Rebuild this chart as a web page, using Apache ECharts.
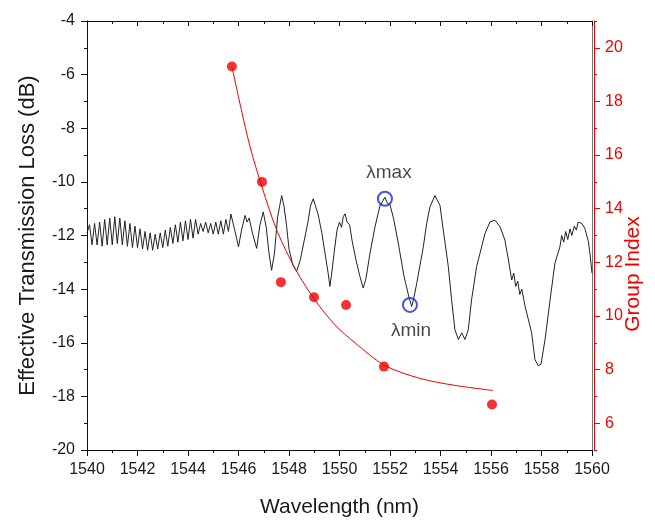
<!DOCTYPE html>
<html>
<head>
<meta charset="utf-8">
<script src="https://cdn.jsdelivr.net/npm/echarts@6/dist/echarts.min.js"></script>
<style>
html,body{margin:0;padding:0;background:#fff;}
#chart{width:655px;height:523px;}
</style>
</head>
<body>
<div id="chart"></div>
<script>
// Transmission spectrum (wavelength nm, effective transmission loss dB)
const specWavelength = [
1540.0,1540.1,1540.2,1540.3,1540.4,1540.5,1540.6,1540.7,1540.8,1540.9,
1541.0,1541.1,1541.2,1541.3,1541.4,1541.5,1541.6,1541.7,1541.8,1541.9,
1542.0,1542.1,1542.2,1542.3,1542.4,1542.5,1542.6,1542.7,1542.8,1542.9,
1543.0,1543.1,1543.2,1543.3,1543.4,1543.5,1543.6,1543.7,1543.8,1543.9,
1544.0,1544.1,1544.2,1544.3,1544.4,1544.5,1544.6,1544.7,1544.8,1544.9,
1545.0,1545.1,1545.2,1545.3,1545.4,1545.5,1545.6,1545.7,1545.85,1546.0,
1546.12,1546.26,1546.34,1546.42,1546.55,1546.72,1546.85,1546.98,1547.1,1547.2,
1547.31,1547.42,1547.55,1547.71,1547.8,1547.9,1548.0,1548.15,1548.3,1548.45,
1548.6,1548.75,1548.85,1548.96,1549.05,1549.15,1549.3,1549.45,1549.55,1549.62,
1549.68,1549.78,1549.9,1550.0,1550.08,1550.15,1550.22,1550.3,1550.4,1550.5,
1550.65,1550.8,1550.94,1551.05,1551.2,1551.4,1551.6,1551.8,1551.9,1552.0,
1552.15,1552.35,1552.55,1552.75,1552.86,1552.95,1553.06,1553.32,1553.45,1553.58,
1553.78,1553.98,1554.11,1554.31,1554.44,1554.57,1554.71,1554.84,1554.97,1555.1,
1555.23,1555.43,1555.63,1555.76,1555.96,1556.16,1556.36,1556.55,1556.69,1556.82,
1556.9,1556.98,1557.06,1557.14,1557.22,1557.35,1557.61,1557.74,1557.87,1557.98,
1558.14,1558.34,1558.53,1558.73,1558.8,1558.88,1558.96,1559.04,1559.13,1559.2,
1559.3,1559.38,1559.45,1559.52,1559.6,1559.72,1559.85,1559.92,1560.0
];
const specLoss = [
-11.9,-11.6,-12.35,-11.55,-12.35,-11.5,-12.4,-11.4,-12.35,-11.35,
-12.35,-11.3,-12.3,-11.35,-12.35,-11.45,-12.4,-11.55,-12.45,-11.65,
-12.45,-11.75,-12.5,-11.85,-12.55,-11.9,-12.55,-11.95,-12.5,-11.9,
-12.45,-11.8,-12.4,-11.7,-12.3,-11.6,-12.25,-11.5,-12.2,-11.45,
-12.15,-11.4,-12.1,-11.4,-11.95,-11.55,-11.85,-11.5,-11.9,-11.55,
-11.95,-11.5,-11.95,-11.45,-11.95,-11.4,-11.85,-11.2,-11.8,-12.42,
-11.8,-11.25,-11.5,-11.35,-11.9,-12.48,-11.6,-11.12,-11.7,-12.6,
-13.3,-12.7,-11.3,-10.51,-10.9,-11.6,-12.5,-13.1,-13.34,-12.9,
-12.2,-11.5,-10.9,-10.63,-10.9,-11.2,-11.9,-12.8,-13.4,-13.9,
-13.5,-12.7,-11.8,-11.5,-11.7,-11.3,-11.19,-11.5,-11.6,-12.2,
-12.9,-13.5,-13.96,-13.6,-12.7,-11.7,-10.9,-10.57,-10.8,-10.85,
-11.4,-12.4,-13.5,-14.3,-14.65,-14.3,-13.78,-12.42,-11.56,-10.94,
-10.51,-10.88,-11.8,-13.16,-14.4,-15.51,-15.88,-15.63,-15.88,-15.51,
-14.4,-13.16,-12.42,-11.93,-11.49,-11.43,-11.68,-12.17,-12.91,-13.66,
-13.4,-13.9,-13.7,-14.2,-14.0,-14.64,-15.63,-16.62,-16.86,-16.8,
-15.88,-14.4,-13.04,-12.42,-12.0,-12.25,-11.85,-12.15,-11.75,-12.0,
-11.65,-11.8,-11.5,-11.45,-11.55,-11.74,-12.2,-12.67,-13.4
];

// Measured group index points
const giWavelength = [1545.74, 1546.93, 1547.68, 1548.99, 1550.26, 1551.76, 1556.04];
const groupIndex   = [19.30, 15.00, 11.26, 10.70, 10.41, 8.11, 6.70];

// Fitted group index curve
const fitWavelength = [1545.74,1546.10,1546.46,1546.93,1547.52,1548.28,1549.03,1549.82,1550.61,1551.80,1553.19,1554.57,1556.08];
const fitIndex      = [19.30,17.74,16.30,14.81,13.19,11.70,10.59,9.67,9.00,8.15,7.67,7.41,7.22];

// Annotated extrema
const markerWavelength = [1551.80, 1552.79];
const markerLoss       = [-10.63, -14.59];
const markerLabels     = ['λmax', 'λmin'];

// Right axis tick values
const giMajorTicks = [6, 8, 10, 12, 14, 16, 18, 20];
const giMinorTicks = [5, 7, 9, 11, 13, 15, 17, 19, 21];

const FONT = 'Liberation Sans, Arial, sans-serif';
const RED = '#f00000';
const BLUE = '#1a2ad8';
const INK = '#1a1a1a';

const zip = (a, b) => a.map((v, i) => [v, b[i]]);

const chart = echarts.init(document.getElementById('chart'), null, {renderer: 'canvas'});
chart.setOption({
  animation: false,
  backgroundColor: '#ffffff',
  textStyle: {fontFamily: FONT},
  grid: {left: 87, top: 21, right: 63, bottom: 70, containLabel: false},
  graphic: [{
    type: 'text', x: 633, y: 274, rotation: Math.PI / 2,
    style: {
      text: 'Group Index', fill: RED, fontSize: 21, fontFamily: FONT,
      textAlign: 'center', textVerticalAlign: 'middle', verticalAlign: 'middle'
    }
  }],
  xAxis: [{
    type: 'value', position: 'bottom', min: 1540, max: 1560, interval: 2,
    name: 'Wavelength (nm)', nameLocation: 'middle', nameGap: 47,
    nameTextStyle: {fontSize: 21, color: INK, fontFamily: FONT},
    axisLine: {show: true, lineStyle: {color: '#111', width: 1}},
    axisTick: {show: true, inside: false, length: 6, lineStyle: {color: '#111'}},
    minorTick: {show: true, splitNumber: 2, length: 3, lineStyle: {color: '#111'}},
    axisLabel: {fontSize: 16, color: INK, margin: 12, fontFamily: FONT, formatter: v => String(v)},
    splitLine: {show: false}, minorSplitLine: {show: false}
  }, {
    type: 'value', position: 'top', min: 1540, max: 1560, interval: 2,
    axisLine: {show: true, lineStyle: {color: '#111', width: 1}},
    axisTick: {show: true, inside: true, length: 5, lineStyle: {color: '#111'}},
    minorTick: {show: true, splitNumber: 2, length: 3, lineStyle: {color: '#111'}},
    axisLabel: {show: false}, splitLine: {show: false}
  }],
  yAxis: [{
    type: 'value', position: 'left', min: -20, max: -4, interval: 2,
    name: 'Effective Transmission Loss (dB)', nameLocation: 'middle', nameGap: 48,
    nameTextStyle: {fontSize: 22, color: INK, fontFamily: FONT},
    axisLine: {show: true, lineStyle: {color: '#111', width: 1}},
    axisTick: {show: true, inside: false, length: 6, lineStyle: {color: '#111'}},
    minorTick: {show: true, splitNumber: 2, length: 3, lineStyle: {color: '#111'}},
    axisLabel: {fontSize: 16, color: INK, margin: 12, fontFamily: FONT},
    splitLine: {show: false}, minorSplitLine: {show: false}
  }, {
    type: 'value', position: 'right', min: 5, max: 21, offset: 2,
    axisLine: {show: true, lineStyle: {color: RED, width: 1}},
    axisTick: {show: true, inside: false, length: 6, customValues: giMajorTicks, lineStyle: {color: RED}},
    axisLabel: {fontSize: 16, color: RED, margin: 11, customValues: giMajorTicks, fontFamily: FONT},
    splitLine: {show: false}
  }, {
    type: 'value', position: 'right', min: 5, max: 21, offset: 2,
    axisLine: {show: false},
    axisTick: {show: true, inside: false, length: 3, customValues: giMinorTicks, lineStyle: {color: RED}},
    axisLabel: {show: false}, splitLine: {show: false}
  }, {
    type: 'value', position: 'right', min: -20, max: -4, offset: 0,
    axisLine: {show: true, lineStyle: {color: '#777', width: 1}},
    axisTick: {show: false}, axisLabel: {show: false}, splitLine: {show: false}
  }],
  series: [{
    type: 'line', xAxisIndex: 0, yAxisIndex: 0,
    data: zip(specWavelength, specLoss),
    showSymbol: false, smooth: false,
    lineStyle: {color: '#222', width: 1}, z: 2
  }, {
    type: 'line', xAxisIndex: 0, yAxisIndex: 1,
    data: zip(fitWavelength, fitIndex),
    showSymbol: false, smooth: 0.3,
    lineStyle: {color: RED, width: 1}, z: 3
  }, {
    type: 'scatter', xAxisIndex: 0, yAxisIndex: 1,
    data: zip(giWavelength, groupIndex),
    symbol: 'circle', symbolSize: 10,
    itemStyle: {color: RED}, z: 4
  }, {
    type: 'scatter', xAxisIndex: 0, yAxisIndex: 0,
    data: markerWavelength.map((w, i) => ({
      value: [w, markerLoss[i]],
      label: {
        show: true, formatter: markerLabels[i],
        position: i === 0 ? 'top' : 'bottom',
        offset: i === 0 ? [4, -4] : [1, 3]
      }
    })),
    symbol: 'circle', symbolSize: 14,
    itemStyle: {color: 'rgba(0,0,0,0)', borderColor: BLUE, borderWidth: 2},
    label: {fontSize: 19, color: INK, fontFamily: FONT},
    z: 5
  }]
});
</script>
</body>
</html>
